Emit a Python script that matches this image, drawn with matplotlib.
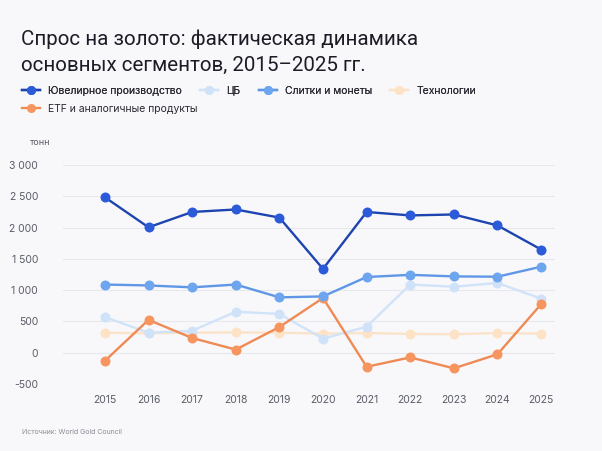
import matplotlib.pyplot as plt
from matplotlib.ticker import FuncFormatter

years = [2015, 2016, 2017, 2018, 2019, 2020, 2021, 2022, 2023, 2024, 2025]
jewelry = [2485, 2005, 2250, 2290, 2160, 1340, 2250, 2195, 2210, 2035, 1650]
central_banks = [570, 320, 350, 655, 620, 225, 415, 1090, 1055, 1115, 865]
bars_coins = [1090, 1075, 1045, 1090, 885, 900, 1210, 1245, 1220, 1215, 1375]
technology = [320, 310, 320, 325, 320, 305, 315, 300, 295, 315, 305]
etf = [-130, 525, 235, 50, 410, 875, -225, -75, -250, -25, 775]

bg = '#f8f8fb'
plt.rcParams['font.family'] = ['Inter', 'DejaVu Sans']

fig = plt.figure(figsize=(6.02, 4.51), dpi=100, facecolor=bg)
ax = fig.add_axes([0.1047, 0.1486, 0.8173, 0.4854], facecolor=bg)

series = [
    ('Ювелирное производство', jewelry, '#1e44b0', '#2b5bd8', 5),
    ('ЦБ', central_banks, '#d0e3f8', '#cfe2f8', 2),
    ('Слитки и монеты', bars_coins, '#5f97e6', '#6da5ef', 4),
    ('Технологии', technology, '#fbe3c9', '#fde2c6', 1),
    ('ETF и аналогичные продукты', etf, '#ef8a55', '#f7955e', 3),
]
handles = {}
for name, vals, lc, mc, z in series:
    h, = ax.plot(years, vals, color=lc, lw=1.7, marker='o', ms=7.2, mew=0,
                 markerfacecolor=mc, zorder=z, label=name)
    handles[name] = h

ax.set_xlim(2014.04, 2025.32)
ax.set_ylim(-500, 3000)
ax.set_yticks(range(-500, 3001, 500))
ax.set_xticks(years)
ax.yaxis.set_major_formatter(FuncFormatter(lambda v, p: f'{int(v):,}'.replace(',', ' ')))
ax.grid(axis='y', color='#e6e8ee', lw=0.8)
ax.set_axisbelow(True)
for s in ax.spines.values():
    s.set_visible(False)
ax.tick_params(length=0, labelsize=7.5, colors='#5a5d66')
ax.tick_params(axis='y', pad=18)
ax.tick_params(axis='x', pad=8)

# заголовок в две строки
fig.text(0.035, 1 - 45 / 451, 'Спрос на золото: фактическая динамика',
         fontsize=14.8, color='#1b1c26', va='baseline', family=['Roboto', 'DejaVu Sans'])
fig.text(0.035, 1 - 71 / 451, 'основных сегментов, 2015–2025 гг.',
         fontsize=14.8, color='#1b1c26', va='baseline', family=['Roboto', 'DejaVu Sans'])
fig.text(0.05, 0.685, 'тонн', fontsize=6.5, color='#5a5d66', va='center')
fig.text(0.037, 0.043, 'Источник: World Gold Council', fontsize=5, color='#8a8d96', va='center')

leg_kw = dict(loc='center left', frameon=False, fontsize=7.5, borderpad=0, borderaxespad=0,
              handlelength=1.75, handletextpad=0.75, columnspacing=1.75,
              markerscale=0.9, labelcolor='#2a2b33')
row1 = ['Ювелирное производство', 'ЦБ', 'Слитки и монеты', 'Технологии']
leg1 = fig.legend([handles[n] for n in row1], row1, ncol=4,
                  bbox_to_anchor=(22 / 602, 1 - 90.7 / 451), **leg_kw)
row2 = ['ETF и аналогичные продукты']
leg2 = fig.legend([handles[n] for n in row2], row2, ncol=1,
                  bbox_to_anchor=(22 / 602, 1 - 109 / 451), **leg_kw)
fig.add_artist(leg1)

fig.savefig('out.png', dpi=100, facecolor=bg)
